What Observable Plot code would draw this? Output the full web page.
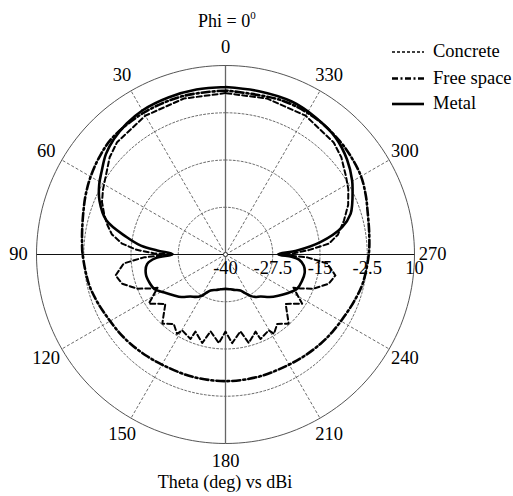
<!DOCTYPE html>
<html>
<head>
<meta charset="utf-8">
<script src="https://cdn.jsdelivr.net/npm/d3@7"></script>
<script src="https://cdn.jsdelivr.net/npm/@observablehq/plot@0.6"></script>
<style>
  html, body { margin: 0; padding: 0; background: #fff; }
  #wrap { position: relative; width: 513px; height: 496px; overflow: hidden; }
  #overlay { position: absolute; left: 0; top: 0; pointer-events: none; }
  svg text { font-family: "Liberation Serif", "Times New Roman", serif; }
</style>
</head>
<body>
<div id="wrap"></div>
<script>
// ---- Tick labels ----
const angleTicks = [0, 30, 60, 90, 120, 150, 180, 210, 240, 270, 300, 330];
const radialTicks = [-40, -27.5, -15, -2.5, 10];
const rMin = -40, rMax = 10;

// ---- Series: theta (deg) and gain (dBi) ----
const metalTheta = [0, 10, 20, 30, 37, 44, 50, 56, 61, 67, 74, 80, 84, 86.6, 89.5,
  90.5, 93, 97, 104, 111, 116, 122, 128, 134, 140, 145, 149, 153, 157.4, 165, 172, 180,
  188, 195, 202.6, 207, 211.4, 215, 220, 226, 232, 238, 244.4, 251, 257, 262, 266, 268, 269.5,
  270.5, 273.2, 277.4, 283.2, 288, 291.8, 296, 300.3, 308, 316.8, 326.8, 336.6, 348.4];
const metalDb = [4.3, 4.3, 4.2, 4.0, 3.4, 2.5, 1.3, -0.5, -1.8, -3.8, -7.2, -13.4, -17.5, -21.9, -26,
  -25.5, -21.5, -19.1, -18.3, -18.6, -19.1, -21, -22.5, -23.8, -25.5, -26.3, -27.1, -28.5, -29.7, -30.3, -30.7, -30.9,
  -30.7, -30.3, -29.7, -28.5, -27.1, -26.3, -25.5, -23.8, -22.3, -20.7, -19, -18.6, -18.5, -19.1, -20.5, -22.5, -25.5,
  -26, -21, -14.7, -8.3, -5.2, -3.9, -2.6, -1.2, 0.8, 2.5, 3.4, 4.1, 4.1];

const freeTheta = [0, 15, 30, 44, 52, 60, 67, 73, 80, 85, 90, 102, 110, 118, 126, 133, 142, 151, 165, 180,
  195, 209, 218, 227, 234, 242, 250, 258, 270, 278, 287, 293, 300, 308, 315, 326, 340];
const freeDb = [3.4, 3.4, 3.3, 3.0, 2.2, 1.2, 0.2, -0.7, -1.5, -1.9, -2.2, -3.0, -3.8, -4.6, -5.1, -5.5, -6.0, -6.4, -6.5, -6.5,
  -6.5, -6.4, -6.0, -5.5, -5.1, -4.6, -3.8, -2.9, -2.1, -1.6, -0.7, 0.3, 1.4, 2.1, 2.6, 3.2, 3.4];

const concreteTheta = [0, 15, 30, 44, 50, 57, 62, 67, 72, 76, 80, 84, 87, 89, 90,
  92, 95, 100.8, 105.8, 111.2, 114.4, 116,
  122.7, 129.4, 137.6, 143.3, 148.6, 150.3, 157.5, 158.7, 165.3, 169, 175.7, 180,
  184.3, 191, 194.7, 201.3, 202.5, 209.7, 211.4, 216.7, 222.4, 230.6, 237.3,
  244, 245.6, 248.8, 254.2, 259.2, 265, 268,
  270, 271, 273, 276, 280, 286, 292, 298, 303, 310, 316, 330, 345];
const concreteDb = [2.7, 2.7, 2.4, 1.3, 0, -2.2, -3.3, -4.5, -6.3, -7.8, -9.5, -12.5, -16.5, -21, -26,
  -18.4, -13, -10.4, -11.6, -15, -18.2, -20,
  -15.9, -19.4, -15.2, -17.1, -15.4, -16.9, -15.8, -18.1, -15.8, -19.3, -16.5, -19.6,
  -16.5, -19.3, -15.8, -18.1, -15.8, -16.9, -15.4, -17.1, -15.2, -19.4, -15.9,
  -20, -18.2, -15, -11.6, -10.4, -13, -18.4,
  -26, -22, -18, -12.5, -9.8, -7.4, -5, -3.2, -2, 0, 1.2, 2.4, 2.7];

const seriesNames = ["Concrete", "Free space", "Metal"];

// ---- geometry helpers (polar -> cartesian in radial units) ----
const toRad = d => d * Math.PI / 180;
const u = db => db - rMin;
const px = (t, db) => -u(db) * Math.sin(toRad(t));
const py = (t, db) => u(db) * Math.cos(toRad(t));
function loop(thetas, dbs) {
  const pts = thetas.map((t, i) => ({x: px(t, dbs[i]), y: py(t, dbs[i])}));
  pts.push(pts[0]);
  return pts;
}
const circlePts = db => d3.range(0, 361, 2).map(t => ({x: px(t, db), y: py(t, db)}));

const W = 513, H = 496, cx = 225, cy = 254, R = 189;
const k = R / (rMax - rMin);
const labelDb = 207 / k + rMin;

const grid = "#5a5a5a";
const chart = Plot.plot({
  width: W, height: H, margin: 0,
  x: {domain: [-cx / k, (W - cx) / k], range: [0, W], axis: null},
  y: {domain: [-(H - cy) / k, cy / k], range: [H, 0], axis: null},
  style: {fontFamily: "Liberation Serif, Times New Roman, serif", fontSize: "18px", background: "white", color: "black"},
  marks: [
    ...radialTicks.slice(1, -1).map(db => Plot.line(circlePts(db), {x: "x", y: "y", stroke: grid, strokeWidth: 0.9, strokeDasharray: "2,2"})),
    Plot.line(circlePts(rMax), {x: "x", y: "y", stroke: "#555", strokeWidth: 1}),
    Plot.link(angleTicks.filter(a => a % 90 !== 0), {
      x1: a => px(a, rMin), y1: a => py(a, rMin), x2: a => px(a, rMax), y2: a => py(a, rMax),
      stroke: grid, strokeWidth: 0.9, strokeDasharray: "3,2"
    }),
    Plot.link([[0, 180]], {x1: d => px(d[0], rMax), y1: d => py(d[0], rMax), x2: d => px(d[1], rMax), y2: d => py(d[1], rMax), stroke: "#666", strokeWidth: 1.3}),
    Plot.link([[90, 270]], {x1: d => px(d[0], rMax), y1: d => py(d[0], rMax), x2: d => px(d[1], rMax), y2: d => py(d[1], rMax), stroke: "#111", strokeWidth: 1.2}),
    Plot.text(angleTicks, {x: a => px(a, labelDb), y: a => py(a, labelDb), text: a => String(a), fontSize: 18.5, textAnchor: "middle", lineAnchor: "middle", fill: "black"}),
    Plot.text(radialTicks, {x: d => u(d), y: 0, dy: 14, text: d => String(d), fontSize: 18.5, textAnchor: "middle", lineAnchor: "middle", fill: "black"}),
    Plot.line(loop(freeTheta, freeDb), {x: "x", y: "y", stroke: "black", strokeWidth: 2.6, strokeDasharray: "8,3,2,3", curve: "catmull-rom"}),
    Plot.line(loop(concreteTheta, concreteDb), {x: "x", y: "y", stroke: "black", strokeWidth: 2, strokeDasharray: "5,3", curve: "linear"}),
    Plot.line(loop(metalTheta, metalDb), {x: "x", y: "y", stroke: "black", strokeWidth: 2.6, curve: "catmull-rom"}),
    Plot.dot([0], {x: 0, y: 0, r: 2, stroke: "#444", fill: "white", strokeWidth: 1})
  ]
});
document.getElementById("wrap").appendChild(chart);

// ---- title, legend, caption ----
const ov = d3.select("#wrap").append("svg").attr("id", "overlay").attr("width", W).attr("height", H);
const title = ov.append("text").attr("x", 198).attr("y", 27).attr("font-size", 18).attr("fill", "black");
title.append("tspan").text("Phi = 0");
title.append("tspan").attr("font-size", 11).attr("dy", -8).text("0");
ov.append("text").attr("x", cx).attr("y", 488).attr("text-anchor", "middle").attr("font-size", 18).attr("fill", "black").text("Theta (deg) vs dBi");
const legDash = ["3,2", "6,2.5,2,2.5", null];
const legW = [1.5, 2.4, 2.6];
seriesNames.forEach((name, i) => {
  const ly = [52, 78.5, 104][i];
  const ln = ov.append("line").attr("x1", 392).attr("x2", 424).attr("y1", ly).attr("y2", ly)
    .attr("stroke", "black").attr("stroke-width", legW[i]);
  if (legDash[i]) ln.attr("stroke-dasharray", legDash[i]);
  ov.append("text").attr("x", 433).attr("y", ly + 5).attr("font-size", 18.5).attr("fill", "black").text(name);
});
</script>
</body>
</html>
